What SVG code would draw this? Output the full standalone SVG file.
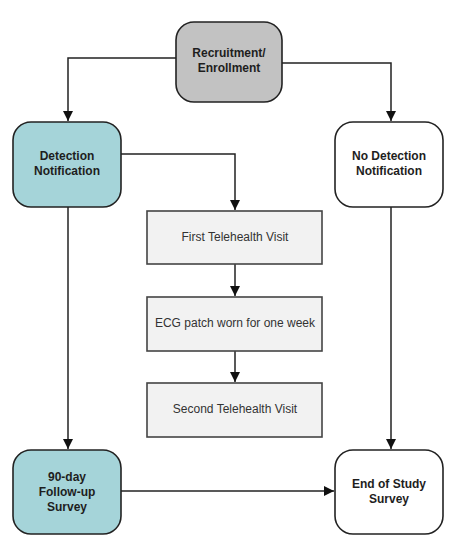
<svg xmlns="http://www.w3.org/2000/svg" width="463" height="546" viewBox="0 0 463 546">
<style>
.rnd{stroke:#222;stroke-width:1.6}
.sq{fill:#f2f2f2;stroke:#444;stroke-width:1.6}
.b{font-family:"Liberation Sans",Arial,sans-serif;font-size:12px;font-weight:bold;fill:#1e1e1e;text-anchor:middle}
.r{font-family:"Liberation Sans",Arial,sans-serif;font-size:12px;fill:#333;text-anchor:middle}
.c{fill:none;stroke:#222;stroke-width:1.5}
</style>
<defs>
<marker id="ah" viewBox="0 0 10 10" refX="10" refY="5" markerWidth="10" markerHeight="10" markerUnits="userSpaceOnUse" orient="auto">
<path d="M0,0 L10,5 L0,10 z" fill="#111"/>
</marker>
</defs>
<rect width="463" height="546" fill="#fff"/>
<g id="connectors">
<path class="c" d="M176,58 H68 V121" marker-end="url(#ah)"/>
<path class="c" d="M282,63 H391 V121" marker-end="url(#ah)"/>
<path class="c" d="M121,154 H235 V210" marker-end="url(#ah)"/>
<path class="c" d="M235,264 V296" marker-end="url(#ah)"/>
<path class="c" d="M235,351 V382" marker-end="url(#ah)"/>
<path class="c" d="M68,207 V449" marker-end="url(#ah)"/>
<path class="c" d="M391,207 V449" marker-end="url(#ah)"/>
<path class="c" d="M121,491 H334" marker-end="url(#ah)"/>
</g>
<g id="recruitment">
<rect class="rnd" x="176" y="22" width="106" height="80" rx="18" fill="#c2c2c2"/>
<text class="b" x="229" y="57">Recruitment/</text>
<text class="b" x="229" y="72">Enrollment</text>
</g>
<g id="detection">
<rect class="rnd" x="13" y="122" width="108" height="85" rx="18" fill="#a5d4d9"/>
<text class="b" x="67" y="160">Detection</text>
<text class="b" x="67" y="175">Notification</text>
</g>
<g id="nodetection">
<rect class="rnd" x="335" y="122" width="108" height="85" rx="18" fill="#fff"/>
<text class="b" x="389" y="160">No Detection</text>
<text class="b" x="389" y="175">Notification</text>
</g>
<g id="first">
<rect class="sq" x="147" y="211" width="175" height="53"/>
<text class="r" x="235" y="241">First Telehealth Visit</text>
</g>
<g id="ecg">
<rect class="sq" x="147" y="297" width="175" height="54"/>
<text class="r" x="235" y="327">ECG patch worn for one week</text>
</g>
<g id="second">
<rect class="sq" x="147" y="383" width="175" height="54"/>
<text class="r" x="235" y="413">Second Telehealth Visit</text>
</g>
<g id="followup">
<rect class="rnd" x="13" y="450" width="108" height="84" rx="18" fill="#a5d4d9"/>
<text class="b" x="67" y="481">90-day</text>
<text class="b" x="67" y="496">Follow-up</text>
<text class="b" x="67" y="511">Survey</text>
</g>
<g id="endstudy">
<rect class="rnd" x="335" y="450" width="108" height="84" rx="18" fill="#fff"/>
<text class="b" x="389" y="488">End of Study</text>
<text class="b" x="389" y="503">Survey</text>
</g>
</svg>
